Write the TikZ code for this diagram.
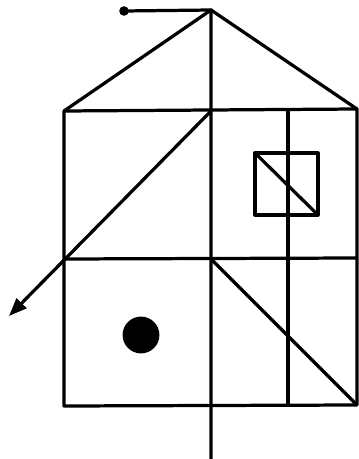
\documentclass[tikz,border=0pt]{standalone}
\usetikzlibrary{arrows.meta}
\begin{document}
\begin{tikzpicture}[x=0.025cm, y=-0.025cm, line width=2.3pt, line join=round]
\useasboundingbox (0,0) rectangle (359,459);
% corner points of the house
\coordinate (apex) at (211,10);
\coordinate (pin)  at (124,11);
\coordinate (tl) at (64,111);
\coordinate (tc) at (211,111);
\coordinate (tr) at (357,109);
\coordinate (ml) at (64,259);
\coordinate (mc) at (211,259);
\coordinate (mr) at (357,258);
\coordinate (bl) at (64,406);
\coordinate (br) at (357,405);
\coordinate (foot) at (211,459);
\coordinate (tip) at (9,316);
\coordinate (sq1) at (255,153);
\coordinate (sq2) at (318,215);
\coordinate (c1) at (288,111);
\coordinate (c2) at (288,406);
% roof and walls
\draw (tl) -- (apex) -- (tr);
\draw (tl) -- (tr) -- (br) -- (bl) -- cycle;
\draw (pin) -- (apex) -- (foot);
\draw (ml) -- (mr);
\draw (c1) -- (c2);
% window
\draw (sq1) rectangle (sq2);
\draw (sq1) -- (sq2);
% diagonals
\draw[-{Triangle[length=4.5mm, width=3.4mm]}] (tc) -- (tip);
\draw (mc) -- (br);
% dots
\fill (pin) circle[radius=0.12cm];
\fill (141,335) circle[radius=0.46cm];
\end{tikzpicture}
\end{document}
